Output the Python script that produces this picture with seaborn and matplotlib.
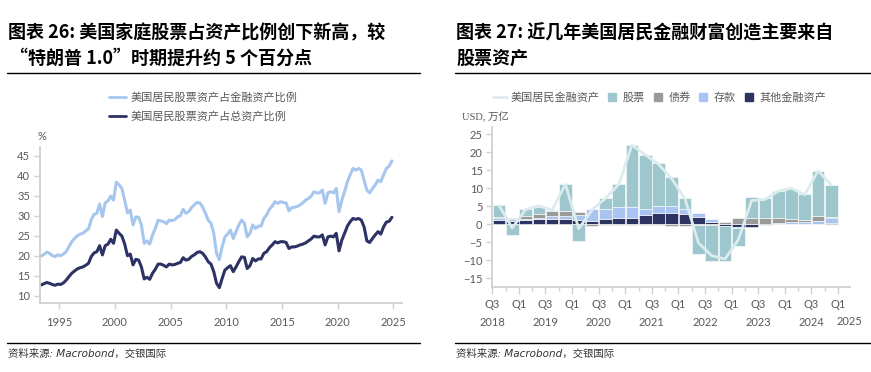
import numpy as np
import pandas as pd
import seaborn as sns
import matplotlib.pyplot as plt
from matplotlib.lines import Line2D

sns.set_theme(style='ticks')
plt.rcParams['font.family'] = ['Lato', 'Noto Sans CJK SC', 'DejaVu Sans']

# ---- chart 26 data: quarterly, 1993Q2 .. 2024Q4 (%)
q_start, q_end = '1993Q2', '2024Q4'
stock_to_fin = [
    19.9, 20.3, 20.9,
    20.6, 20.0, 19.8, 20.2,
    20.0, 20.4, 21.0, 22.3,
    23.5, 24.3, 25.0, 25.4,
    25.6, 26.2, 26.7, 29.0,
    30.3, 30.6, 32.9, 29.8,
    33.2, 33.7, 34.9, 33.9,
    38.4, 37.7, 36.8, 33.9,
    30.7, 31.4, 27.7, 29.7,
    29.6, 27.7, 23.1, 23.7,
    22.9, 25.2, 26.8, 28.9,
    28.7, 28.5, 28.0, 28.9,
    28.8, 29.0, 29.7, 30.0,
    31.6, 30.6, 31.0, 32.0,
    32.7, 33.3, 33.2, 32.2,
    30.6, 28.9, 28.1, 25.6,
    20.6, 19.0, 22.2, 24.7,
    25.4, 26.4, 24.3, 26.0,
    27.7, 28.9, 28.1, 24.7,
    25.6, 27.7, 26.8, 27.4,
    27.4, 29.3, 30.2, 31.6,
    32.4, 33.5, 33.1, 33.5,
    33.3, 33.2, 31.2, 32.0,
    32.1, 32.3, 32.7, 33.2,
    33.9, 34.3, 34.9, 36.0,
    35.7, 35.7, 36.4, 33.1,
    35.7, 36.0, 35.7, 36.8,
    31.0, 33.9, 36.0, 38.5,
    40.2, 41.8, 41.4, 41.8,
    41.4, 38.9, 36.4, 35.7,
    36.8, 37.7, 38.9, 38.5,
    40.2, 41.8, 42.4, 43.7,
]
stock_to_total = [
    12.7, 13.0, 13.3,
    13.1, 12.8, 12.6, 12.9,
    12.8, 13.2, 13.9, 14.8,
    15.6, 16.2, 16.7, 17.0,
    17.2, 17.6, 18.1, 19.8,
    20.7, 21.0, 22.5, 20.2,
    22.5, 22.9, 24.1, 23.1,
    26.4, 25.6, 24.9, 22.9,
    20.0, 20.4, 17.7, 19.1,
    18.9, 17.2, 14.2, 14.6,
    14.1, 15.6, 16.6, 17.9,
    17.9, 17.6, 17.2, 17.9,
    17.7, 17.8, 18.1, 18.3,
    19.5, 18.9, 19.1, 19.8,
    20.2, 20.8, 21.0, 20.6,
    19.7, 18.5, 17.9, 16.0,
    13.1, 12.0, 14.3, 16.4,
    17.0, 17.5, 16.0, 17.2,
    18.5, 19.7, 19.6, 16.8,
    17.5, 19.3, 18.7, 19.2,
    19.2, 20.6, 21.0, 22.0,
    22.7, 23.5, 23.2, 23.5,
    23.5, 23.3, 21.8, 22.2,
    22.2, 22.4, 22.7, 22.9,
    23.2, 23.7, 24.2, 24.9,
    24.7, 24.7, 25.2, 22.7,
    24.7, 24.9, 24.7, 25.6,
    21.2, 23.9, 25.6, 27.4,
    28.5, 29.3, 29.1, 29.3,
    28.9, 27.2, 23.7, 23.3,
    24.3, 25.2, 26.0, 25.4,
    27.2, 28.4, 28.6, 29.6,
]
year_ticks = [1995, 2000, 2005, 2010, 2015, 2020, 2025]
y_ticks_26 = [10, 15, 20, 25, 30, 35, 40, 45]

# ---- chart 27 data: quarterly change, 2018Q3 .. 2024Q4 (USD tn)
quarters = pd.period_range('2018Q3', '2024Q4', freq='Q').astype(str).tolist()
stocks = [3.2, -2.9, 1.9, 1.9, 0.3, 7.4, -4.6, 0.2, 3.1, 6.4, 17.2, 14.9, 11.8,
          8.0, 3.2, -8.0, -9.8, -9.7, -5.0, 5.6, 5.5, 7.4, 8.2, 7.0, 12.6, 8.9]
bonds = [0.4, 0.5, 0.8, 1.1, 1.4, 1.5, 0.9, -0.4, -0.3, -0.2, -0.1, -0.1, -0.2,
         -0.5, -0.4, -0.3, -0.3, 0.6, 1.7, 1.9, 1.7, 1.5, 0.9, 0.6, 1.4, 0.2]
deposits = [0.5, 0.4, 0.4, 0.5, 0.8, 0.6, 1.2, 3.2, 2.9, 3.0, 2.95, 1.7, 2.0,
            1.9, 1.4, 1.0, 0.8, 0.0, -0.3, 0.0, -0.1, 0.2, 0.4, 0.6, 0.8, 1.45]
other = [1.2, 1.0, 1.1, 1.4, 1.5, 1.6, 1.3, 1.0, 1.4, 1.8, 1.85, 2.7, 3.1,
         3.2, 2.8, 2.1, 0.7, -0.4, -0.7, -0.8, -0.2, 0.2, 0.2, 0.1, 0.1, 0.35]
fin_assets = [5.3, -1.0, 4.1, 5.1, 4.0, 11.1, -1.2, 4.0, 7.2, 11.0, 22.0, 19.3, 16.7,
              12.6, 7.0, -5.1, -8.7, -9.6, -4.3, 6.6, 6.9, 9.2, 10.0, 8.2, 14.9, 10.9]
q_tick_labels = ['Q3\n2018', 'Q1', 'Q3\n2019', 'Q1', 'Q3\n2020', 'Q1', 'Q3\n2021', 'Q1',
                 'Q3\n2022', 'Q1', 'Q3\n2023', 'Q1', 'Q3\n2024', 'Q1']
y_ticks_27 = [-15, -10, -5, 0, 5, 10, 15, 20, 25]

c_light, c_dark = '#a7c6ee', '#2c3263'
c_stock, c_bond, c_dep, c_other = '#9dc7cc', '#9a9a9a', '#a9c4f1', '#2d3462'
c_line27 = '#dcecee'
tick_col, spine_col = '#595959', '#d0d0d0'

W, H = 871, 372
fig = plt.figure(figsize=(W / 100, H / 100), dpi=100)
fig.patch.set_facecolor('white')


def fx(px):
    return px / W


def fy(py):
    return 1 - py / H


def style_axes(ax):
    for s in ['top', 'right']:
        ax.spines[s].set_visible(False)
    for s in ['left', 'bottom']:
        ax.spines[s].set_color(spine_col)
        ax.spines[s].set_linewidth(1.3)
    ax.tick_params(axis='both', colors=spine_col, labelcolor=tick_col, labelsize=8,
                   length=4, width=1.0, pad=3)
    ax.set_facecolor('white')
    ax.grid(False)
    ax.set_xlabel('')
    ax.set_ylabel('')


# ---------------- left chart
ax1 = fig.add_axes([fx(40), fy(302.7), fx(402 - 40), (302.7 - 146.7) / H])
pi = pd.period_range(q_start, q_end, freq='Q')
xq = pi.year + (pi.quarter - 0.5) / 4
sns.lineplot(x=xq, y=stock_to_fin, color=c_light, lw=2.2, ax=ax1)
sns.lineplot(x=xq, y=stock_to_total, color=c_dark, lw=2.2, ax=ax1)
ax1.set_xlim(1993.27, 2025.78)
ax1.set_ylim(8.25, 47.25)
ax1.set_xticks(year_ticks)
ax1.set_yticks(y_ticks_26)
style_axes(ax1)
ax1.tick_params(axis='x', pad=6)
fig.text(fx(37), fy(136), '%', color=tick_col, fontsize=8, va='center')

fig.legend(
    handles=[Line2D([], [], color=c_light, lw=2), Line2D([], [], color=c_dark, lw=2)],
    labels=['美国居民股票资产占金融资产比例', '美国居民股票资产占总资产比例'],
    loc='upper left', bbox_to_anchor=(fx(103), fy(86)), frameon=False, ncol=1,
    handlelength=1.6, handletextpad=0.4, labelspacing=0.75, fontsize=8,
    labelcolor=tick_col, borderpad=0)

# ---------------- right chart
ax2 = fig.add_axes([fx(492.3), fy(286.7), fx(850 - 492.3), (286.7 - 126.7) / H])
pos_base = np.zeros(len(quarters))
neg_base = np.zeros(len(quarters))
for vals, col in [(other, c_other), (deposits, c_dep), (bonds, c_bond), (stocks, c_stock)]:
    v = np.array(vals, dtype=float)
    base = np.where(v >= 0, pos_base, neg_base)
    sns.barplot(x=quarters, y=v, bottom=base, color=col, saturation=1, width=0.95,
                errorbar=None, edgecolor='white', linewidth=0.4, ax=ax2)
    pos_base += np.clip(v, 0, None)
    neg_base += np.clip(v, None, 0)
sns.lineplot(x=np.arange(len(quarters)), y=fin_assets, color=c_line27, lw=2, ax=ax2)
ax2.set_xlim(-0.5, 26.4)
ax2.set_ylim(-17.3, 27.1)
ax2.set_yticks(y_ticks_27)
major = np.arange(-0.5, 26, 2)
ax2.set_xticks(major)
ax2.set_xticklabels(q_tick_labels)
ax2.set_xticks(np.arange(0.5, 25, 2), minor=True)
style_axes(ax2)
ax2.tick_params(axis='x', which='major', length=5, pad=4)
ax2.tick_params(axis='x', which='minor', length=3, color=spine_col)
for lab in ax2.get_xticklabels():
    lab.set_linespacing(1.7)
    lab.set_verticalalignment('top')
ax2.text(26.35, -0.215, '2025', transform=ax2.get_xaxis_transform(), ha='center',
         va='center', fontsize=8, color=tick_col)
fig.text(fx(462), fy(117), 'USD, 万亿', color=tick_col, fontsize=7.5, va='center',
         family=['Liberation Serif', 'Noto Sans CJK SC'])

handles2 = [Line2D([], [], color=c_line27, lw=2),
            Line2D([], [], color=c_stock, marker='s', ls='none', markersize=6),
            Line2D([], [], color=c_bond, marker='s', ls='none', markersize=6),
            Line2D([], [], color=c_dep, marker='s', ls='none', markersize=6),
            Line2D([], [], color=c_other, marker='s', ls='none', markersize=6)]
fig.legend(handles=handles2, labels=['美国居民金融资产', '股票', '债券', '存款', '其他金融资产'],
           loc='center left', bbox_to_anchor=(fx(487), fy(97)), frameon=False, ncol=5,
           handlelength=1.3, handletextpad=0.3, columnspacing=0.5, fontsize=8,
           labelcolor=tick_col, borderpad=0)

# ---------------- titles, rules, sources
title_kw = dict(fontsize=13, fontweight='bold', color='black', va='center',
                family=['Noto Sans CJK SC'])
fig.text(fx(8), fy(33), '图表 26: 美国家庭股票占资产比例创下新高，较', **title_kw)
fig.text(fx(10), fy(58), '“特朗普 1.0”时期提升约 5 个百分点', **title_kw)
fig.text(fx(456), fy(33), '图表 27: 近几年美国居民金融财富创造主要来自', **title_kw)
fig.text(fx(456), fy(58), '股票资产', **title_kw)

for x0, x1 in [(7, 420), (455, 871)]:
    for yy in [73, 343]:
        fig.add_artist(Line2D([fx(x0), fx(x1)], [fy(yy), fy(yy)], color='black', lw=1))

src_kw = dict(fontsize=7.5, color='#333333', style='italic', va='center',
              family=['DejaVu Sans', 'Noto Sans CJK SC'])
fig.text(fx(8), fy(354), '资料来源: Macrobond，交银国际', **src_kw)
fig.text(fx(456), fy(354), '资料来源: Macrobond，交银国际', **src_kw)

fig.savefig('out.png', dpi=100, facecolor='white')
